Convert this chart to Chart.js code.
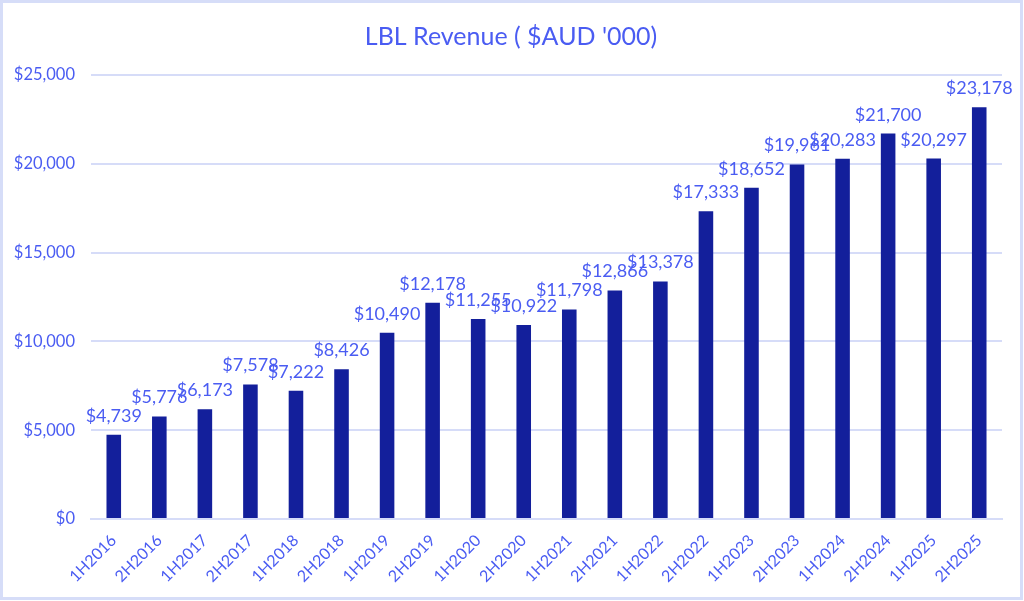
<!DOCTYPE html>
<html>
<head>
<meta charset="utf-8">
<script src="https://cdn.jsdelivr.net/npm/chart.js@4.4.1/dist/chart.umd.min.js"></script>
<style>
  html, body { margin: 0; padding: 0; background: #fff; }
  #wrap { position: absolute; left: 0; top: 0; width: 1024px; height: 601px; }
  #frame { position: absolute; left: 0; top: 0; width: 1023px; height: 600px; box-sizing: border-box;
           border: 3px solid #d6ddf8; pointer-events: none; }
</style>
</head>
<body>
<div id="wrap">
  <canvas id="myChart" width="1024" height="601"></canvas>
  <div id="frame"></div>
</div>
<script>
const chartTitle = "LBL Revenue ( $AUD '000)";
const periods = ["1H2016", "2H2016", "1H2017", "2H2017", "1H2018", "2H2018", "1H2019", "2H2019",
  "1H2020", "2H2020", "1H2021", "2H2021", "1H2022", "2H2022", "1H2023", "2H2023",
  "1H2024", "2H2024", "1H2025", "2H2025"];
const revenue = [4739, 5776, 6173, 7578, 7222, 8426, 10490, 12178, 11255, 10922,
  11798, 12866, 13378, 17333, 18652, 19961, 20283, 21700, 20297, 23178];
const yTicks = [0, 5000, 10000, 15000, 20000, 25000];

const textBlue = "#4a5cf2";
const barBlue = "#131f9b";
const gridBlue = "#d6dcf8";

const money = (v) => "$" + v.toLocaleString("en-US");

// value labels above each bar + title centred on the whole picture
const barLabels = {
  id: "barLabels",
  afterDatasetsDraw(chart) {
    const ctx = chart.ctx;
    const meta = chart.getDatasetMeta(0);
    ctx.save();
    ctx.font = "18px Lato";
    ctx.fillStyle = textBlue;
    ctx.textAlign = "center";
    ctx.textBaseline = "alphabetic";
    meta.data.forEach((bar, i) => {
      ctx.fillText(money(revenue[i]), bar.x, bar.y - 13);
    });
    ctx.font = "25px Lato";
    ctx.textBaseline = "middle";
    ctx.fillText(chartTitle, 511, 37);
    ctx.restore();
  },
};

const ctx = document.getElementById("myChart").getContext("2d");
const myChart = new Chart(ctx, {
  type: "bar",
  data: {
    labels: periods,
    datasets: [
      {
        label: "Revenue",
        data: revenue,
        backgroundColor: barBlue,
        barPercentage: 0.64,
        categoryPercentage: 0.5,
      },
    ],
  },
  options: {
    responsive: false,
    animation: false,
    layout: { padding: { left: 0, right: 22, top: 75, bottom: 0 } },
    plugins: {
      legend: { display: false },
      tooltip: { enabled: false },
      title: { display: false },
    },
    scales: {
      x: {
        grid: { display: false },
        border: { color: gridBlue, width: 2 },
        ticks: {
          color: textBlue,
          font: { family: "Lato", size: 16 },
          minRotation: 45,
          maxRotation: 45,
          padding: 4,
        },
        afterFit(scale) { scale.height = 82; },
      },
      y: {
        min: 0,
        max: 25000,
        afterBuildTicks(scale) { scale.ticks = yTicks.map((v) => ({ value: v })); },
        grid: { color: gridBlue, lineWidth: 2, drawTicks: false },
        border: { display: false },
        ticks: {
          color: textBlue,
          font: { family: "Lato", size: 16.5 },
          padding: 16,
          callback: (v) => money(v),
        },
        afterFit(scale) { scale.width = 91; },
      },
    },
  },
  plugins: [barLabels],
});
</script>
</body>
</html>
